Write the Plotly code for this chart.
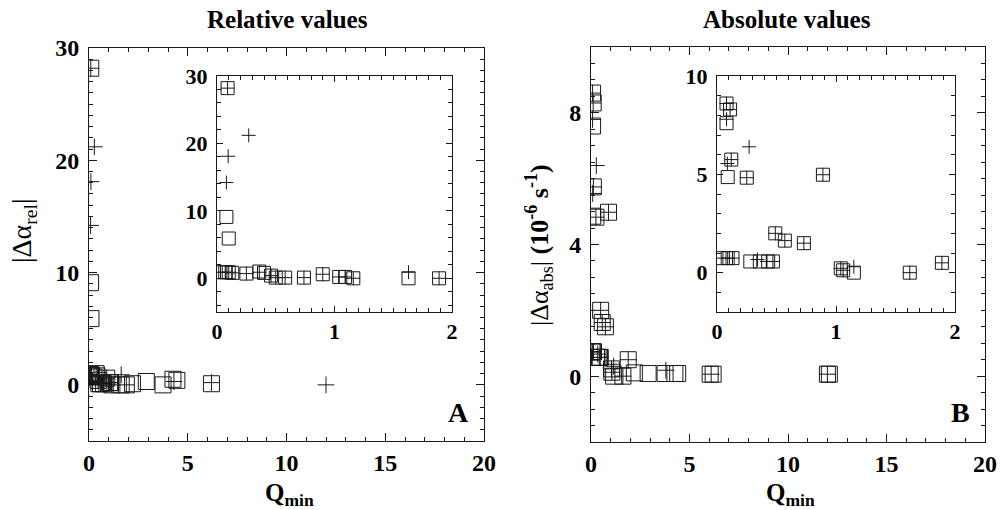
import plotly.graph_objects as go

# ---------------- data: relative values (panel A) ----------------
rel_sq_q = [0.09, 0.08, 0.10, 0.03, 0.07, 0.10, 0.13, 0.25, 0.36, 0.40, 0.46, 0.50, 0.58,
            0.74, 0.90, 1.04, 1.09, 1.16, 1.63, 1.89, 2.2, 2.9, 3.75, 4.25, 4.45, 6.2]
rel_sq_v = [28.2, 9.1, 5.9, 0.9, 0.9, 0.9, 0.8, 0.7, 1.0, 0.8, 0.4, 0.1, 0.1,
            0.1, 0.6, 0.2, 0.2, 0.0, 0.0, 0.0, 0.1, 0.3, 0.0, 0.5, 0.4, 0.1]
rel_pl_q = [0.09, 0.27, 0.095, 0.08, 0.03, 0.07, 0.10, 0.13, 0.25, 0.36, 0.46, 0.50, 0.58,
            0.74, 0.90, 1.04, 1.09, 1.16, 1.63, 1.89, 4.3, 6.2, 12.0]
rel_pl_v = [28.2, 21.2, 18.1, 14.2, 0.9, 0.9, 0.9, 0.8, 0.7, 0.9, 0.4, 0.1, 0.1,
            0.1, 0.6, 0.2, 0.2, 0.0, 0.9, 0.0, 0.3, 0.2, 0.0]

# ---------------- data: absolute values (panel B, 10^-6 s^-1) ----------------
abs_sq_q = [0.08, 0.11, 0.08, 0.12, 0.09, 0.25, 0.89, 0.49, 0.57, 0.73, 0.05, 0.09, 0.13,
            0.28, 0.36, 0.43, 0.47, 1.04, 1.06, 1.15, 1.62, 1.89, 2.2, 2.9, 3.76, 4.26,
            4.4, 6.05, 6.2, 12.0, 12.1]
abs_sq_v = [8.6, 8.3, 7.6, 5.75, 4.86, 4.83, 4.98, 2.0, 1.63, 1.5, 0.74, 0.74, 0.74,
            0.57, 0.57, 0.57, 0.57, 0.22, 0.12, 0.0, 0.0, 0.5, 0.1, 0.08, 0.08, 0.08,
            0.08, 0.06, 0.06, 0.06, 0.06]
abs_pl_q = [0.08, 0.11, 0.08, 0.12, 0.087, 0.27, 0.25, 0.89, 0.49, 0.57, 0.73, 0.05, 0.09,
            0.13, 0.34, 0.42, 0.47, 1.04, 1.06, 1.15, 1.62, 1.89, 3.8, 6.1, 12.0]
abs_pl_v = [8.6, 8.3, 7.8, 5.75, 5.55, 6.4, 4.83, 4.98, 2.0, 1.63, 1.5, 0.74, 0.74,
            0.74, 0.67, 0.57, 0.57, 0.22, 0.12, 0.3, 0.0, 0.5, 0.18, 0.06, 0.06]

INK = "#1a1a1a"
FONT = "Liberation Serif, Times New Roman, serif"

fig = go.Figure()


def add_pair(xq, yv, pq, pv, xa, ya, sq_size, pl_size):
    fig.add_trace(go.Scatter(x=xq, y=yv, mode="markers", xaxis=xa, yaxis=ya,
                             marker=dict(symbol="square-open", size=sq_size, color=INK,
                                         line=dict(width=1, color=INK)),
                             showlegend=False, cliponaxis=True))
    fig.add_trace(go.Scatter(x=pq, y=pv, mode="markers", xaxis=xa, yaxis=ya,
                             marker=dict(symbol="cross-thin-open", size=pl_size, color=INK,
                                         line=dict(width=1, color=INK)),
                             showlegend=False, cliponaxis=True))


add_pair(rel_sq_q, rel_sq_v, rel_pl_q, rel_pl_v, "x", "y", 16, 12)
add_pair(rel_sq_q, rel_sq_v, rel_pl_q, rel_pl_v, "x2", "y2", 13, 10)
add_pair(abs_sq_q, abs_sq_v, abs_pl_q, abs_pl_v, "x3", "y3", 16, 12)
add_pair(abs_sq_q, abs_sq_v, abs_pl_q, abs_pl_v, "x4", "y4", 13, 10)

W, H = 1000, 510


def dom_x(a, b):
    return [a / W, b / W]


def dom_y(top, bottom):
    return [(H - bottom) / H, (H - top) / H]


def ax(domain, rng, dtick, minor, size, anchor, ticklen=8, **kw):
    d = dict(domain=domain, range=rng, dtick=dtick, tick0=0, anchor=anchor,
             showline=True, linecolor=INK, linewidth=1, mirror="allticks",
             ticks="inside", ticklen=ticklen, tickwidth=1, tickcolor=INK,
             showgrid=False, zeroline=False, fixedrange=True,
             minor=dict(dtick=minor, tick0=0, ticks="inside", ticklen=4,
                        tickcolor=INK, showgrid=False),
             tickfont=dict(family=FONT, size=size, color="black", weight="bold"),
             automargin=False)
    d.update(kw)
    return d


fig.update_layout(
    width=W, height=H,
    margin=dict(l=0, r=0, t=0, b=0),
    paper_bgcolor="white", plot_bgcolor="rgba(0,0,0,0)",
    font=dict(family=FONT, color="black"),
    xaxis=ax(dom_x(89, 484), [0, 20], 5, 1, 24, "y"),
    yaxis=ax(dom_y(48, 441), [-5, 30], 10, 1, 24, "x", ticklabelstandoff=4),
    xaxis2=ax(dom_x(217, 452), [0, 2], 1, 0.1, 22, "y2", ticklen=6),
    yaxis2=ax(dom_y(76, 312), [-5, 30], 10, 2, 22, "x2", ticklen=6, ticklabelstandoff=4),
    xaxis3=ax(dom_x(591, 985), [0, 20], 5, 1, 24, "y3"),
    yaxis3=ax(dom_y(47, 442), [-2, 10], 4, 0.5, 24, "x3", ticklabelstandoff=4),
    xaxis4=ax(dom_x(717, 955), [0, 2], 1, 0.1, 22, "y4", ticklen=6),
    yaxis4=ax(dom_y(76, 312), [-2, 10], 5, 1, 22, "x4", ticklen=6, ticklabelstandoff=4),
)

ann_font = dict(family=FONT, color="black")
annotations = [
    dict(text="<b>Relative values</b>", x=287 / W, y=(H - 20) / H, font=dict(size=25, **ann_font)),
    dict(text="<b>Absolute values</b>", x=787 / W, y=(H - 20) / H, font=dict(size=25, **ann_font)),
    dict(text="<b>Q<sub>min</sub></b>", x=289 / W, y=(H - 494) / H, font=dict(size=25, **ann_font)),
    dict(text="<b>Q<sub>min</sub></b>", x=790 / W, y=(H - 494) / H, font=dict(size=25, **ann_font)),
    dict(text="|Δα<sub>rel</sub>|", x=24 / W, y=(H - 231) / H, textangle=-90,
         font=dict(size=28, **ann_font)),
    dict(text="|Δα<sub>abs</sub>| <b>(10<sup>-6</sup> s<sup>-1</sup>)</b>", x=539 / W,
         y=(H - 245) / H, textangle=-90, font=dict(size=26, **ann_font)),
    dict(text="<b>A</b>", x=458 / W, y=(H - 412) / H, font=dict(size=28, **ann_font)),
    dict(text="<b>B</b>", x=960 / W, y=(H - 412) / H, font=dict(size=28, **ann_font)),
]
for a in annotations:
    a.update(xref="paper", yref="paper", showarrow=False, xanchor="center", yanchor="middle")
fig.update_layout(annotations=annotations)

fig.write_html("out.html")
